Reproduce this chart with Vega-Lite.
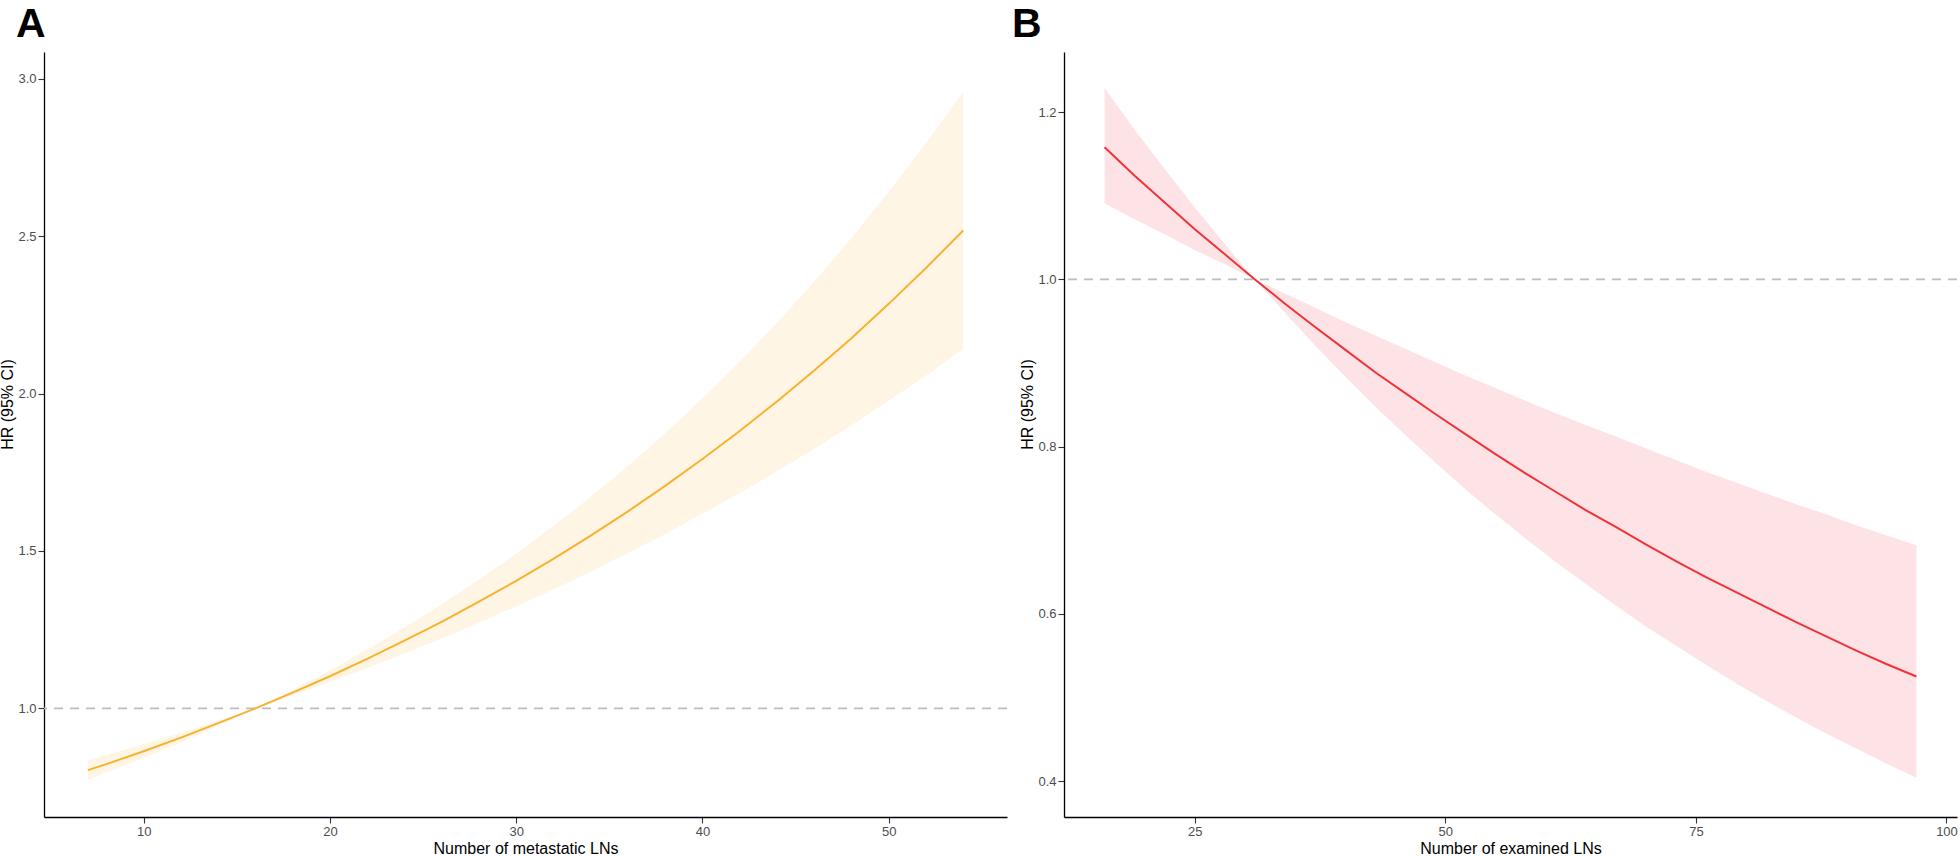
{
  "$schema": "https://vega.github.io/schema/vega-lite/v6.json",
  "autosize": {"type": "none"},
  "padding": {"left": 44, "top": 52, "right": 1916, "bottom": 804},
  "background": "white",
  "spacing": 57,
  "bounds": "flush",
  "config": {
    "font": "Liberation Sans",
    "view": {"stroke": null},
    "axis": {"grid": false, "domainColor": "#000000", "domainWidth": 1.3, "tickColor": "#333333", "tickWidth": 1.1, "tickSize": 6, "labelFont": "Liberation Sans", "labelFontSize": 13, "labelColor": "#4D4D4D", "labelPadding": 2, "titleFont": "Liberation Sans", "titleFontSize": 16, "titleFontWeight": "normal", "titleColor": "#000000"},
    "axisX": {"titlePadding": 2},
    "axisY": {"titlePadding": 2, "titleY": 352},
    "title": {"font": "Liberation Sans", "fontSize": 41, "fontWeight": "bold", "anchor": "start", "frame": "group", "baseline": "alphabetic", "offset": 6, "color": "#000000"}
  },
  "hconcat": [
    {
      "title": {"text": "A", "dx": -28},
      "width": 963,
      "height": 765,
      "data": {"values": [
        {"n": 7, "hr": 0.804, "lower": 0.773, "upper": 0.835},
        {"n": 8, "hr": 0.823, "lower": 0.796, "upper": 0.852},
        {"n": 10, "hr": 0.864, "lower": 0.843, "upper": 0.887},
        {"n": 12, "hr": 0.907, "lower": 0.892, "upper": 0.923},
        {"n": 14, "hr": 0.953, "lower": 0.945, "upper": 0.961},
        {"n": 16, "hr": 1.0, "lower": 1.0, "upper": 1.0},
        {"n": 18, "hr": 1.050, "lower": 1.041, "upper": 1.059},
        {"n": 20, "hr": 1.102, "lower": 1.084, "upper": 1.121},
        {"n": 22, "hr": 1.157, "lower": 1.128, "upper": 1.187},
        {"n": 24, "hr": 1.215, "lower": 1.174, "upper": 1.257},
        {"n": 26, "hr": 1.275, "lower": 1.222, "upper": 1.331},
        {"n": 28, "hr": 1.339, "lower": 1.272, "upper": 1.409},
        {"n": 30, "hr": 1.405, "lower": 1.324, "upper": 1.492},
        {"n": 32, "hr": 1.475, "lower": 1.378, "upper": 1.579},
        {"n": 34, "hr": 1.549, "lower": 1.434, "upper": 1.672},
        {"n": 36, "hr": 1.626, "lower": 1.493, "upper": 1.770},
        {"n": 38, "hr": 1.707, "lower": 1.554, "upper": 1.874},
        {"n": 40, "hr": 1.792, "lower": 1.618, "upper": 1.985},
        {"n": 42, "hr": 1.881, "lower": 1.684, "upper": 2.101},
        {"n": 44, "hr": 1.975, "lower": 1.753, "upper": 2.225},
        {"n": 46, "hr": 2.073, "lower": 1.824, "upper": 2.356},
        {"n": 48, "hr": 2.176, "lower": 1.899, "upper": 2.494},
        {"n": 50, "hr": 2.285, "lower": 1.977, "upper": 2.641},
        {"n": 52, "hr": 2.399, "lower": 2.057, "upper": 2.796},
        {"n": 54, "hr": 2.518, "lower": 2.142, "upper": 2.960}
      ]},
      "layer": [
        {
          "mark": {"type": "area", "color": "#FEF5E4", "opacity": 1},
          "encoding": {
            "x": {"field": "n", "type": "quantitative", "title": "Number of metastatic LNs", "scale": {"domain": [4.65, 56.35], "nice": false, "zero": false}, "axis": {"values": [10, 20, 30, 40, 50]}},
            "y": {"field": "lower", "type": "quantitative", "title": "HR (95% CI)", "scale": {"domain": [0.655, 3.085], "nice": false, "zero": false}, "axis": {"values": [1, 1.5, 2, 2.5, 3], "format": ".1f"}},
            "y2": {"field": "upper"}
          }
        },
        {
          "data": {"values": [{"ref": 1}]},
          "mark": {"type": "rule", "color": "#BDBDBD", "strokeWidth": 1.8, "strokeDash": [9, 7]},
          "encoding": {"y": {"field": "ref", "type": "quantitative", "title": "HR (95% CI)"}}
        },
        {
          "mark": {"type": "line", "color": "#F7B230", "strokeWidth": 2},
          "encoding": {
            "x": {"field": "n", "type": "quantitative", "title": "Number of metastatic LNs"},
            "y": {"field": "hr", "type": "quantitative", "title": "HR (95% CI)"}
          }
        }
      ]
    },
    {
      "title": {"text": "B", "dx": -52},
      "width": 893,
      "height": 765,
      "data": {"values": [
        {"n": 16, "hr": 1.158, "lower": 1.091, "upper": 1.229},
        {"n": 19, "hr": 1.124, "lower": 1.072, "upper": 1.179},
        {"n": 22, "hr": 1.092, "lower": 1.054, "upper": 1.132},
        {"n": 25, "hr": 1.060, "lower": 1.035, "upper": 1.086},
        {"n": 28, "hr": 1.030, "lower": 1.018, "upper": 1.042},
        {"n": 31, "hr": 1.0, "lower": 1.0, "upper": 1.0},
        {"n": 34, "hr": 0.971, "lower": 0.960, "upper": 0.983},
        {"n": 37, "hr": 0.943, "lower": 0.921, "upper": 0.966},
        {"n": 40, "hr": 0.916, "lower": 0.884, "upper": 0.949},
        {"n": 43, "hr": 0.889, "lower": 0.848, "upper": 0.933},
        {"n": 46, "hr": 0.864, "lower": 0.814, "upper": 0.917},
        {"n": 49, "hr": 0.839, "lower": 0.781, "upper": 0.901},
        {"n": 52, "hr": 0.815, "lower": 0.749, "upper": 0.885},
        {"n": 55, "hr": 0.791, "lower": 0.719, "upper": 0.870},
        {"n": 58, "hr": 0.768, "lower": 0.690, "upper": 0.855},
        {"n": 61, "hr": 0.746, "lower": 0.662, "upper": 0.840},
        {"n": 64, "hr": 0.724, "lower": 0.636, "upper": 0.826},
        {"n": 67, "hr": 0.704, "lower": 0.610, "upper": 0.812},
        {"n": 70, "hr": 0.683, "lower": 0.585, "upper": 0.798},
        {"n": 73, "hr": 0.663, "lower": 0.562, "upper": 0.784},
        {"n": 76, "hr": 0.644, "lower": 0.539, "upper": 0.770},
        {"n": 79, "hr": 0.626, "lower": 0.517, "upper": 0.757},
        {"n": 82, "hr": 0.608, "lower": 0.496, "upper": 0.744},
        {"n": 85, "hr": 0.590, "lower": 0.476, "upper": 0.731},
        {"n": 88, "hr": 0.573, "lower": 0.457, "upper": 0.719},
        {"n": 91, "hr": 0.556, "lower": 0.439, "upper": 0.706},
        {"n": 94, "hr": 0.540, "lower": 0.421, "upper": 0.694},
        {"n": 97, "hr": 0.525, "lower": 0.404, "upper": 0.682}
      ]},
      "layer": [
        {
          "mark": {"type": "area", "color": "#FDE3E5", "opacity": 1},
          "encoding": {
            "x": {"field": "n", "type": "quantitative", "title": "Number of examined LNs", "scale": {"domain": [11.95, 101.05], "nice": false, "zero": false}, "axis": {"values": [25, 50, 75, 100]}},
            "y": {"field": "lower", "type": "quantitative", "title": "HR (95% CI)", "scale": {"domain": [0.357, 1.272], "nice": false, "zero": false}, "axis": {"values": [0.4, 0.6, 0.8, 1.0, 1.2], "format": ".1f"}},
            "y2": {"field": "upper"}
          }
        },
        {
          "data": {"values": [{"ref": 1}]},
          "mark": {"type": "rule", "color": "#BDBDBD", "strokeWidth": 1.8, "strokeDash": [9, 7]},
          "encoding": {"y": {"field": "ref", "type": "quantitative", "title": "HR (95% CI)"}}
        },
        {
          "mark": {"type": "line", "color": "#EF3338", "strokeWidth": 2},
          "encoding": {
            "x": {"field": "n", "type": "quantitative", "title": "Number of examined LNs"},
            "y": {"field": "hr", "type": "quantitative", "title": "HR (95% CI)"}
          }
        }
      ]
    }
  ]
}
